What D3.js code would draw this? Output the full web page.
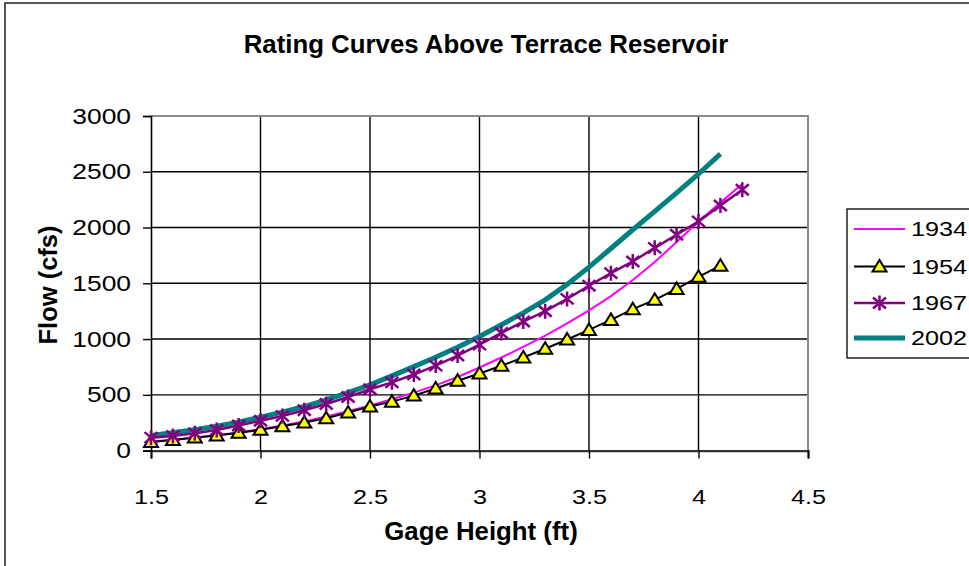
<!DOCTYPE html>
<html>
<head>
<meta charset="utf-8">
<script src="https://cdn.jsdelivr.net/npm/d3@7"></script>
<style>
  body { margin: 0; background: #fff; }
  svg { display: block; font-family: "Liberation Sans", Arial, sans-serif; }
</style>
</head>
<body>
<div id="chart"></div>
<script>
// gage height (ft) for each series
const heights1934 = [1.5,1.6,1.7,1.8,1.9,2.0,2.1,2.2,2.3,2.4,2.5,2.6,2.7,2.8,2.9,3.0,3.1,3.2,3.3,3.4,3.5,3.6,3.7,3.8,3.9,4.0,4.1,4.2];
const flow1934 = [82,98,116,138,163,192,225,262,305,352,405,460,520,585,660,745,835,930,1030,1140,1258,1385,1530,1690,1870,2055,2225,2390];

const heights1954 = [1.5,1.6,1.7,1.8,1.9,2.0,2.1,2.2,2.3,2.4,2.5,2.6,2.7,2.8,2.9,3.0,3.1,3.2,3.3,3.4,3.5,3.6,3.7,3.8,3.9,4.0,4.1];
const flow1954 = [78,95,117,136,160,186,218,251,290,341,396,439,493,557,626,691,761,835,913,996,1082,1172,1268,1352,1450,1558,1658];

const heights1967 = [1.5,1.6,1.7,1.8,1.9,2.0,2.1,2.2,2.3,2.4,2.5,2.6,2.7,2.8,2.9,3.0,3.1,3.2,3.3,3.4,3.5,3.6,3.7,3.8,3.9,4.0,4.1,4.2];
const flow1967 = [116,131,155,185,225,268,311,362,418,480,550,612,682,762,852,950,1055,1157,1250,1360,1478,1591,1696,1818,1935,2055,2198,2339];

const heights2002 = [1.5,1.6,1.7,1.8,1.9,2.0,2.1,2.2,2.3,2.4,2.5,2.6,2.7,2.8,2.9,3.0,3.1,3.2,3.3,3.4,3.5,3.6,3.7,3.8,3.9,4.0,4.1];
const flow2002 = [135,160,188,218,255,300,345,395,455,520,590,670,753,837,927,1023,1128,1235,1352,1490,1645,1812,1980,2145,2310,2480,2660];

const xTicks = [1.5, 2, 2.5, 3, 3.5, 4, 4.5];
const yTicks = [0, 500, 1000, 1500, 2000, 2500, 3000];
const seriesNames = ["1934", "1954", "1967", "2002"];

const width = 969;
const height = 566;
const marginTop = 116;
const marginLeft = 151;
const plotRight = 808;
const plotBottom = 450.6;
const stretch = 1.2; // tick/legend text is drawn wider than tall

const svg = d3.select("#chart").append("svg")
    .attr("width", width)
    .attr("height", height);

// outer chart frame (cropped on the right and bottom)
svg.append("path")
    .attr("d", `M5,${height} V3 H${width}`)
    .attr("fill", "none")
    .attr("stroke", "#222")
    .attr("stroke-width", 1.5);

const x = d3.scaleLinear().domain([1.5, 4.5]).range([marginLeft, plotRight]);
const y = d3.scaleLinear().domain([0, 3000]).range([plotBottom, marginTop]);

function widen(sel) {
  sel.each(function() {
    const t = d3.select(this);
    const tx = +t.attr("x") || 0;
    t.attr("transform", `translate(${tx},0) scale(${stretch},1) translate(${-tx},0)`);
  });
}

// grid
svg.append("g")
    .selectAll("line")
    .data(yTicks.slice(1, -1))
    .join("line")
    .attr("x1", marginLeft).attr("x2", plotRight)
    .attr("y1", d => y(d)).attr("y2", d => y(d))
    .attr("stroke", "#000").attr("stroke-width", 1.4);

svg.append("g")
    .selectAll("line")
    .data(xTicks.slice(1, -1))
    .join("line")
    .attr("x1", d => x(d)).attr("x2", d => x(d))
    .attr("y1", marginTop).attr("y2", plotBottom)
    .attr("stroke", "#000").attr("stroke-width", 1.4);

// plot border top/right in gray
svg.append("path")
    .attr("d", `M${marginLeft},${marginTop} H${plotRight} V${plotBottom}`)
    .attr("fill", "none")
    .attr("stroke", "#8a8a8a")
    .attr("stroke-width", 2);

// axes
const xAxis = svg.append("g")
    .attr("transform", `translate(0,${plotBottom})`)
    .call(d3.axisBottom(x).tickValues(xTicks).tickSize(8).tickPadding(30).tickFormat(d => String(d)));
xAxis.select(".domain").attr("stroke", "#333").attr("stroke-width", 2.2);
xAxis.selectAll(".tick line").attr("stroke", "#000").attr("stroke-width", 1.4);
xAxis.selectAll(".tick text")
    .attr("font-size", 21).attr("fill", "#000").attr("font-family", "Liberation Sans, Arial, sans-serif")
    .call(widen);

const yAxis = svg.append("g")
    .attr("transform", `translate(${marginLeft},0)`)
    .call(d3.axisLeft(y).tickValues(yTicks).tickSize(8).tickPadding(12).tickFormat(d => String(d)));
yAxis.select(".domain").attr("stroke", "#000").attr("stroke-width", 1.6);
yAxis.selectAll(".tick line").attr("stroke", "#000").attr("stroke-width", 1.4);
yAxis.selectAll(".tick text")
    .attr("font-size", 22).attr("fill", "#000").attr("font-family", "Liberation Sans, Arial, sans-serif")
    .call(widen);

// lines
const line = d3.line().x(d => x(d[0])).y(d => y(d[1]));
const s1934 = d3.zip(heights1934, flow1934);
const s1954 = d3.zip(heights1954, flow1954);
const s1967 = d3.zip(heights1967, flow1967);
const s2002 = d3.zip(heights2002, flow2002);

svg.append("path").datum(s2002).attr("d", line)
    .attr("fill", "none").attr("stroke", "#008080").attr("stroke-width", 5);
svg.append("path").datum(s1934).attr("d", line)
    .attr("fill", "none").attr("stroke", "#ff00ff").attr("stroke-width", 2);
svg.append("path").datum(s1954).attr("d", line)
    .attr("fill", "none").attr("stroke", "#000").attr("stroke-width", 2);
svg.append("path").datum(s1967).attr("d", line)
    .attr("fill", "none").attr("stroke", "#800080").attr("stroke-width", 2.5);

// markers
const triPath = "M0,-6.5 L7,5 L-7,5 Z";
const starPath = "M0,-7.5 V7.5 M-6.5,-5.5 L6.5,5.5 M-6.5,5.5 L6.5,-5.5";

svg.append("g").selectAll("path")
    .data(s1954)
    .join("path")
    .attr("transform", d => `translate(${x(d[0])},${y(d[1])})`)
    .attr("d", triPath)
    .attr("fill", "#ffff00").attr("stroke", "#000").attr("stroke-width", 2);

svg.append("g").selectAll("path")
    .data(s1967)
    .join("path")
    .attr("transform", d => `translate(${x(d[0])},${y(d[1])})`)
    .attr("d", starPath)
    .attr("fill", "none").attr("stroke", "#800080").attr("stroke-width", 2.5);

// titles
svg.append("text")
    .attr("x", 486).attr("y", 53)
    .attr("text-anchor", "middle")
    .attr("font-size", 25.8).attr("font-weight", "bold")
    .text("Rating Curves Above Terrace Reservoir");

svg.append("text")
    .attr("x", 481).attr("y", 540)
    .attr("text-anchor", "middle")
    .attr("font-size", 25.8).attr("font-weight", "bold")
    .text("Gage Height (ft)");

svg.append("text")
    .attr("transform", "translate(57,285) rotate(-90)")
    .attr("text-anchor", "middle")
    .attr("font-size", 25.5).attr("font-weight", "bold")
    .text("Flow (cfs)");

// legend
const legend = svg.append("g");
legend.append("rect")
    .attr("x", 847).attr("y", 209)
    .attr("width", 140).attr("height", 149)
    .attr("fill", "#fff").attr("stroke", "#000").attr("stroke-width", 1.3);

const legendY = [229, 266.5, 303, 338];
const legendStyles = [
  {color: "#ff00ff", w: 2, marker: null},
  {color: "#000", w: 2, marker: "tri"},
  {color: "#800080", w: 2.5, marker: "star"},
  {color: "#008080", w: 5, marker: null}
];

const items = legend.selectAll("g.item")
    .data(seriesNames)
    .join("g")
    .attr("class", "item")
    .attr("transform", (d, i) => `translate(0,${legendY[i]})`);

items.append("line")
    .attr("x1", 854).attr("x2", 905)
    .attr("stroke", (d, i) => legendStyles[i].color)
    .attr("stroke-width", (d, i) => legendStyles[i].w);

items.filter((d, i) => legendStyles[i].marker === "tri")
    .append("path")
    .attr("transform", "translate(879.5,0)")
    .attr("d", triPath)
    .attr("fill", "#ffff00").attr("stroke", "#000").attr("stroke-width", 2);

items.filter((d, i) => legendStyles[i].marker === "star")
    .append("path")
    .attr("transform", "translate(879.5,0)")
    .attr("d", starPath)
    .attr("fill", "none").attr("stroke", "#800080").attr("stroke-width", 2.5);

items.append("text")
    .attr("x", 911).attr("dy", "0.35em")
    .attr("font-size", 21)
    .text(d => d)
    .call(widen);
</script>
</body>
</html>
